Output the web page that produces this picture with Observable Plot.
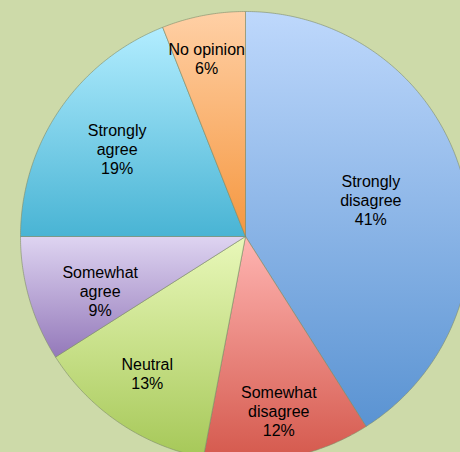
<!DOCTYPE html>
<html><head><meta charset="utf-8">
<script src="https://cdn.jsdelivr.net/npm/d3@7"></script>
<script src="https://cdn.jsdelivr.net/npm/@observablehq/plot@0.6"></script>
<style>
html,body{margin:0;padding:0;background:#cddaa9;}
#chart{width:460px;height:452px;overflow:hidden;}
</style></head>
<body><div id="chart"></div>
<script>
// Data
const categories = ["Strongly\ndisagree", "Somewhat\ndisagree", "Neutral", "Somewhat\nagree", "Strongly\nagree", "No opinion"];
const values = [41, 12, 13, 9, 19, 6];
// Gradient colours (top, bottom)
const colorsTop = ["#bed8fc", "#ffb5b2", "#e9f8ba", "#ded4f1", "#b2edff", "#ffd0a6"];
const colorsBottom = ["#5a93d2", "#d4584c", "#a6c858", "#9479ba", "#49b4d4", "#f5973f"];
// Layout: label distance from centre (fraction of radius) and angle nudge (degrees)
const labelRadius = [0.58, 0.79, 0.75, 0.69, 0.69, 0.81];
const labelAngleNudge = [0, 0, 1.4, -4.4, 0, -1.5];

const total = d3.sum(values);
const slices = [];
const labels = [];
let acc = 0;
values.forEach((v, i) => {
  const a0 = acc / total * 2 * Math.PI;
  acc += v;
  const a1 = acc / total * 2 * Math.PI;
  const pts = [{x: 0, y: 0, i}];
  const n = Math.max(2, Math.ceil((a1 - a0) / (Math.PI / 360)));
  for (let k = 0; k <= n; k++) {
    const a = a0 + (a1 - a0) * k / n;
    pts.push({x: Math.sin(a), y: Math.cos(a), i});
  }
  pts.push({x: 0, y: 0, i});
  slices.push(pts);
  const am = (a0 + a1) / 2 + labelAngleNudge[i] * Math.PI / 180;
  labels.push({x: Math.sin(am) * labelRadius[i], y: Math.cos(am) * labelRadius[i], text: categories[i] + "\n" + v + "%"});
});

const svgNS = "http://www.w3.org/2000/svg";
function defsMark() {
  const defs = document.createElementNS(svgNS, "defs");
  colorsTop.forEach((c, i) => {
    const g = document.createElementNS(svgNS, "linearGradient");
    g.setAttribute("id", "g" + i);
    g.setAttribute("x1", "0"); g.setAttribute("y1", "0");
    g.setAttribute("x2", "0"); g.setAttribute("y2", "1");
    const s0 = document.createElementNS(svgNS, "stop");
    s0.setAttribute("offset", "0"); s0.setAttribute("stop-color", c);
    const s1 = document.createElementNS(svgNS, "stop");
    s1.setAttribute("offset", "1"); s1.setAttribute("stop-color", colorsBottom[i]);
    g.appendChild(s0); g.appendChild(s1);
    defs.appendChild(g);
  });
  return defs;
}

const marks = [defsMark];
slices.forEach((pts, i) => {
  marks.push(Plot.line(pts, {x: "x", y: "y", fill: `url(#g${i})`, stroke: "#7f8c6a", strokeOpacity: 0.6, strokeWidth: 1, curve: "linear-closed"}));
});
marks.push(Plot.text(labels, {x: "x", y: "y", text: "text", fontSize: 16, lineHeight: 1.19, fill: "#000", fontFamily: "Liberation Sans, Arial, sans-serif"}));

const chart = Plot.plot({
  width: 460,
  height: 452,
  margin: 0,
  style: {background: "#cddaa9", overflow: "hidden"},
  x: {type: "linear", domain: [-1, 1], range: [20, 470], axis: null},
  y: {type: "linear", domain: [-1, 1], range: [461, 11], axis: null},
  marks
});
document.getElementById("chart").appendChild(chart);
</script>
</body></html>
